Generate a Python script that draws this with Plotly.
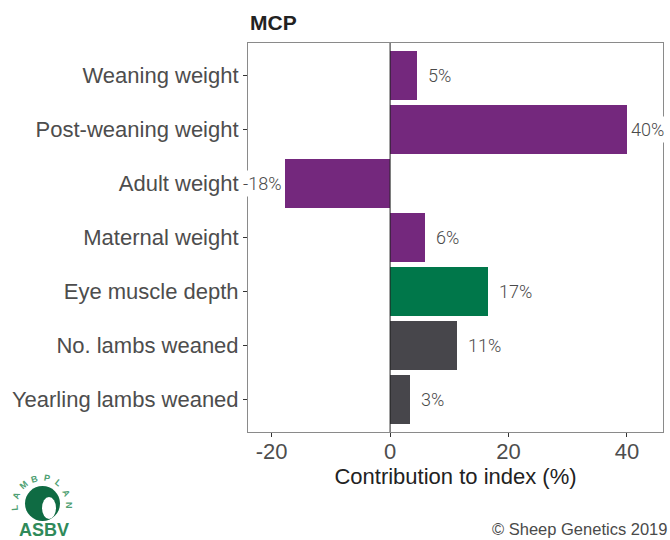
import numpy as np
import plotly.graph_objects as go

categories = ["Weaning weight", "Post-weaning weight", "Adult weight", "Maternal weight",
              "Eye muscle depth", "No. lambs weaned", "Yearling lambs weaned"]
values = [4.6, 40.0, -17.7, 5.9, 16.6, 11.3, 3.4]
labels = ["5%", "40%", "-18%", "6%", "17%", "11%", "3%"]
groups = ["growth", "growth", "growth", "growth", "carcase", "repro", "repro"]
group_colors = {"growth": "#74287d", "carcase": "#00774a", "repro": "#47464b"}
x_ticks = [-20, 0, 20, 40]

W, H = 670, 540
L, R, T, B = 248, 663, 43, 432


def px(x):
    return (x - L) / (R - L)


def py(y):
    return (B - y) / (B - T)


fig = go.Figure()
fig.add_trace(go.Bar(
    y=categories, x=values, orientation="h", width=0.9,
    marker=dict(color=[group_colors[g] for g in groups], line=dict(width=0)),
    hoverinfo="skip",
))

# value labels
for c, v, lab in zip(categories, values, labels):
    if v < 0:
        xa, xs = "right", -1
    elif v > 35:
        xa, xs = "left", 1
    else:
        xa, xs = "left", 8
    fig.add_annotation(x=v, y=c, text=lab, showarrow=False, xanchor=xa, xshift=xs,
                       yanchor="middle", bgcolor="white", borderpad=2,
                       font=dict(family="Roboto", size=18, weight=300, color="#4a4a4a"))

# zero line
fig.add_shape(type="line", x0=0, x1=0, y0=0, y1=1, xref="x", yref="paper",
              line=dict(color="#222222", width=1), layer="above")

# title
fig.add_annotation(x=px(248), y=py(22), xref="paper", yref="paper", text="<b>MCP</b>",
                   showarrow=False, xanchor="left", yanchor="middle",
                   font=dict(family="Liberation Sans", size=21, color="#222222"))

# footer
fig.add_annotation(x=px(669), y=py(529), xref="paper", yref="paper",
                   text="© Sheep Genetics 2019", showarrow=False, xanchor="right",
                   yanchor="middle", font=dict(family="Liberation Sans", size=16.5, color="#4a4a4a"))

# logo: disk with sheep head, arced LAMBPLAN, ASBV
fig.add_shape(type="circle", xref="paper", yref="paper",
              x0=px(25), x1=px(60), y0=py(521), y1=py(486),
              fillcolor="#0f6b43", line=dict(width=0))
fig.add_shape(type="circle", xref="paper", yref="paper",
              x0=px(42), x1=px(56), y0=py(519), y1=py(497),
              fillcolor="white", line=dict(width=0))
cx, cy, rr = 42, 505, 27
letters = "LAMBPLAN"
angs = np.linspace(185, 0, len(letters))
for ch, a in zip(letters, angs):
    ar = np.deg2rad(a)
    fig.add_annotation(x=px(cx + rr * np.cos(ar)), y=py(cy - rr * np.sin(ar)),
                       xref="paper", yref="paper", text=f"<b>{ch}</b>", showarrow=False,
                       xanchor="center", yanchor="middle",
                       textangle=90 - a, font=dict(family="Liberation Sans", size=9, color="#4f9f72"))
fig.add_annotation(x=px(44), y=py(530), xref="paper", yref="paper", text="<b>ASBV</b>",
                   showarrow=False, xanchor="center", yanchor="middle",
                   font=dict(family="Liberation Sans", size=18, color="#2f8a5a"))

fig.update_layout(
    width=W, height=H,
    margin=dict(l=L, r=W - R, t=T, b=H - B, autoexpand=False),
    paper_bgcolor="white", plot_bgcolor="white",
    showlegend=False, bargap=0,
    font=dict(family="Liberation Sans", size=22, color="#4d4d4d"),
)
fig.update_xaxes(
    range=[-24.0, 46.1], tickvals=x_ticks, ticktext=[str(t) for t in x_ticks],
    ticks="outside", ticklen=4, tickcolor="#333333", tickwidth=1,
    showgrid=False, zeroline=False,
    showline=True, linecolor="#8a8a8a", linewidth=1, mirror=True,
    tickfont=dict(size=22, color="#4d4d4d"), ticklabelstandoff=-4,
    title=dict(text="Contribution to index (%)", standoff=4,
               font=dict(size=22, color="#222222")),
)
fig.update_yaxes(
    type="category", categoryorder="array", categoryarray=categories,
    range=[6.6, -0.6], autorange=False,
    ticks="outside", ticklen=4, tickcolor="#333333", tickwidth=1,
    showgrid=False, zeroline=False,
    showline=True, linecolor="#8a8a8a", linewidth=1, mirror=True,
    tickfont=dict(size=22, color="#4d4d4d"),
)

fig.write_html("out.html", config={"displayModeBar": False},
               post_script="document.body.style.margin='0';document.body.style.overflow='hidden';")
